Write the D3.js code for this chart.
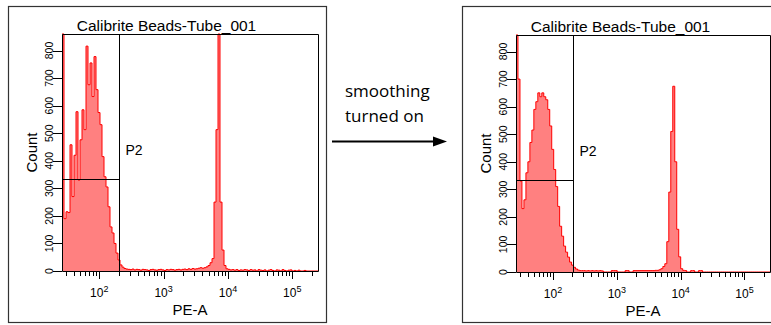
<!DOCTYPE html>
<html>
<head>
<meta charset="utf-8">
<script src="https://cdn.jsdelivr.net/npm/d3@7"></script>
<style>
  body { margin: 0; background: #fff; }
  svg { display: block; }
</style>
</head>
<body>
<div id="chart"></div>
<script>
const title = "Calibrite Beads-Tube_001";
const xLabel = "PE-A";
const yLabel = "Count";
const gateName = "P2";
const note = ["smoothing", "turned on"];

// PE-A range (log) and count range
const xDomain = [26.3, 251000];
const yDomain = [0, 860];
const yTicks = [0, 100, 200, 300, 400, 500, 600, 700, 800];
const decades = [1, 2, 3, 4, 5];

// gate P2: upper PE-A edge and marker height
const gateX = 205;
const gateY = 333;

// 128 log-spaced bins over xDomain, raw counts
const rawCounts = [
  900, 190, 215, 212, 458, 270, 420, 578, 330, 476, 585, 513, 816, 676, 755, 633,
  778, 658, 575, 531, 415, 342, 305, 233, 160, 138, 100, 65, 40, 22, 14, 9,
  7, 6, 5, 7, 4, 6, 5, 3, 6, 5, 4, 2, 5, 6, 4, 3,
  5, 6, 4, 2, 5, 4, 6, 5, 3, 5, 6, 4, 6, 7, 5, 8,
  6, 9, 7, 8, 10, 12, 10, 12, 15, 20, 30, 45, 250, 513, 900, 250,
  76, 20, 8, 6, 4, 5, 3, 5, 2, 4, 3, 5, 4, 2, 5, 3,
  4, 0, 5, 3, 2, 4, 0, 3, 5, 2, 0, 4, 3, 0, 5, 2,
  0, 3, 4, 0, 2, 0, 3, 0, 0, 2, 0, 0, 0, 0, 0, 0
];

// same bins, smoothing turned on
const smoothCounts = [
  900, 700, 330, 230, 262, 360, 400, 470, 515, 590, 618, 650, 636, 650, 636, 625,
  590, 530, 445, 372, 310, 238, 166, 130, 94, 72, 54, 36, 25, 17, 11, 7,
  5, 5, 5, 4, 5, 4, 5, 4, 5, 4, 5, 4, 0, 0, 0, 0,
  5, 5, 5, 0, 0, 0, 0, 5, 5, 0, 0, 5, 5, 5, 5, 5,
  5, 5, 5, 5, 5, 5, 6, 6, 8, 12, 20, 30, 110, 290, 510, 674,
  400, 155, 55, 12, 6, 5, 0, 0, 5, 5, 0, 0, 5, 5, 0, 0,
  0, 0, 0, 0, 0, 0, 0, 0, 0, 0, 0, 0, 0, 0, 0, 0,
  0, 0, 0, 0, 0, 0, 0, 0, 0, 0, 0, 0, 0, 0, 0, 0
];

const svg = d3.select("#chart")
  .append("svg")
  .attr("width", 771)
  .attr("height", 325);

const fontAxis = "'Liberation Sans', Arial, sans-serif";

function drawPanel(counts, box, frame) {
  const x = d3.scaleLog().domain(xDomain).range([box.left, box.right]);
  const y = d3.scaleLinear().domain(yDomain).range([box.bottom, box.top]).clamp(true);
  const g = svg.append("g");

  // outer frame
  g.append("rect")
    .attr("x", frame.left + 0.5)
    .attr("y", frame.top + 0.5)
    .attr("width", frame.right - frame.left)
    .attr("height", frame.bottom - frame.top)
    .attr("fill", "none")
    .attr("stroke", "#333")
    .attr("stroke-width", 1.2);

  // bin edges
  const lo = Math.log10(xDomain[0]);
  const hi = Math.log10(xDomain[1]);
  const step = (hi - lo) / counts.length;
  const pts = [];
  counts.forEach((c, i) => {
    pts.push([Math.pow(10, lo + i * step), c]);
    pts.push([Math.pow(10, lo + (i + 1) * step), c]);
  });

  const area = d3.area()
    .x((d) => x(d[0]))
    .y0(y(0))
    .y1((d) => y(d[1]));
  const line = d3.line()
    .x((d) => x(d[0]))
    .y((d) => y(d[1]));

  g.append("path")
    .attr("d", area(pts))
    .attr("fill", "#ff8080");
  g.append("path")
    .attr("d", line(pts))
    .attr("fill", "none")
    .attr("stroke", "#ff0000")
    .attr("stroke-width", 1);

  // plot box
  g.append("path")
    .attr("d", `M${box.left + 0.5},${box.bottom + 0.5}V${box.top + 0.5}H${box.right + 0.5}V${box.bottom + 0.5}Z`)
    .attr("fill", "none")
    .attr("stroke", "#000")
    .attr("stroke-width", 1);

  // y ticks
  yTicks.forEach((t) => {
    const yy = Math.round(y(t)) + 0.5;
    g.append("line")
      .attr("x1", box.left - 9).attr("x2", box.left)
      .attr("y1", yy).attr("y2", yy)
      .attr("stroke", "#000");
    g.append("text")
      .attr("transform", `translate(${box.left - 9},${y(t)}) rotate(-90)`)
      .attr("text-anchor", "middle")
      .style("font-family", fontAxis)
      .style("font-size", "10.5px")
      .text(t);
  });

  // x ticks (log minor + major)
  decades.forEach((dec) => {
    for (let m = 1; m <= 9; m++) {
      const v = m * Math.pow(10, dec);
      if (v < xDomain[0] || v > xDomain[1]) continue;
      const xx = Math.round(x(v)) + 0.5;
      g.append("line")
        .attr("x1", xx).attr("x2", xx)
        .attr("y1", box.bottom).attr("y2", box.bottom + (m === 1 ? 8 : 5))
        .attr("stroke", "#000");
      if (m === 1) {
        const lab = g.append("text")
          .attr("x", x(v))
          .attr("y", box.bottom + 26)
          .attr("text-anchor", "middle")
          .style("font-family", fontAxis)
          .style("font-size", "12px");
        lab.append("tspan").text("10");
        lab.append("tspan").attr("dy", -5).style("font-size", "9px").text(dec);
      }
    }
  });

  // gate P2
  const gx = Math.round(x(gateX)) + 0.5;
  const gy = Math.round(y(gateY)) + 0.5;
  g.append("line")
    .attr("x1", gx).attr("x2", gx)
    .attr("y1", box.top).attr("y2", box.bottom)
    .attr("stroke", "#000");
  g.append("line")
    .attr("x1", box.left).attr("x2", gx)
    .attr("y1", gy).attr("y2", gy)
    .attr("stroke", "#000");
  g.append("text")
    .attr("x", gx + 6)
    .attr("y", box.top + 121)
    .style("font-family", fontAxis)
    .style("font-size", "14px")
    .text(gateName);

  // titles
  g.append("text")
    .attr("x", box.left + 104.5)
    .attr("y", box.top - 3)
    .attr("text-anchor", "middle")
    .style("font-family", fontAxis)
    .style("font-size", "15.5px")
    .text(title);
  g.append("text")
    .attr("x", (box.left + box.right) / 2)
    .attr("y", box.bottom + 44)
    .attr("text-anchor", "middle")
    .style("font-family", fontAxis)
    .style("font-size", "15px")
    .text(xLabel);
  g.append("text")
    .attr("transform", `translate(${box.left - 25.5},${(box.top + box.bottom) / 2}) rotate(-90)`)
    .attr("text-anchor", "middle")
    .style("font-family", fontAxis)
    .style("font-size", "15px")
    .text(yLabel);
}

drawPanel(rawCounts,
  { left: 62, right: 318, top: 34, bottom: 271 },
  { left: 8, right: 326, top: 6, bottom: 322 });
drawPanel(smoothCounts,
  { left: 516, right: 770, top: 35, bottom: 272 },
  { left: 462, right: 820, top: 6, bottom: 322 });

// middle note with arrow
const noteG = svg.append("g");
note.forEach((s, i) => {
  noteG.append("text")
    .attr("x", 345)
    .attr("y", 97 + i * 25)
    .style("font-family", "'Open Sans', sans-serif")
    .style("font-size", "17px")
    .text(s);
});
noteG.append("line")
  .attr("x1", 332).attr("x2", 436)
  .attr("y1", 141.5).attr("y2", 141.5)
  .attr("stroke", "#000")
  .attr("stroke-width", 2);
noteG.append("path")
  .attr("d", "M447,141.5L433,136.5L433,146.5Z")
  .attr("fill", "#000");
</script>
</body>
</html>
